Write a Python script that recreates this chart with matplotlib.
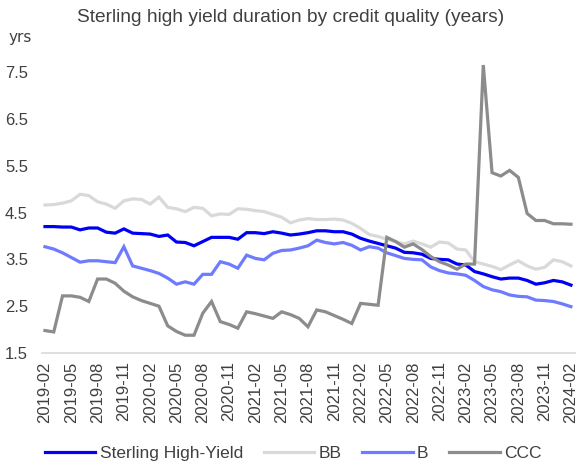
import numpy as np
import pandas as pd
import matplotlib
matplotlib.use("Agg")
import matplotlib.pyplot as plt

plt.rcParams['font.family'] = ['Liberation Sans', 'DejaVu Sans']

# Monthly observations, Feb 2019 .. Feb 2024
months = pd.date_range("2019-02-01", "2024-02-01", freq="MS").strftime("%Y-%m").tolist()

sterling_hy = [4.20, 4.20, 4.19, 4.19, 4.13, 4.17, 4.17, 4.08, 4.06, 4.15,
               4.06, 4.05, 4.04, 3.99, 4.02, 3.87, 3.86, 3.79, 3.88, 3.97,
               3.97, 3.97, 3.93, 4.07, 4.07, 4.05, 4.09, 4.06, 4.02, 4.04,
               4.07, 4.11, 4.11, 4.09, 4.09, 4.04, 3.95, 3.89, 3.84, 3.79,
               3.74, 3.65, 3.64, 3.61, 3.52, 3.50, 3.49, 3.40, 3.38, 3.24,
               3.19, 3.13, 3.08, 3.10, 3.10, 3.05, 2.97, 3.00, 3.05, 3.02,
               2.95]

bb = [4.66, 4.67, 4.70, 4.75, 4.89, 4.86, 4.73, 4.68, 4.59, 4.75,
      4.79, 4.78, 4.68, 4.83, 4.61, 4.58, 4.52, 4.61, 4.59, 4.43,
      4.47, 4.46, 4.58, 4.57, 4.54, 4.52, 4.46, 4.40, 4.28, 4.34,
      4.37, 4.35, 4.35, 4.36, 4.34, 4.27, 4.16, 4.03, 3.99, 3.93,
      3.88, 3.83, 3.89, 3.83, 3.76, 3.87, 3.85, 3.72, 3.70, 3.45,
      3.40, 3.35, 3.28, 3.38, 3.47, 3.36, 3.29, 3.33, 3.49, 3.45,
      3.36]

b = [3.77, 3.72, 3.64, 3.54, 3.44, 3.47, 3.47, 3.45, 3.43, 3.77,
     3.36, 3.31, 3.26, 3.20, 3.10, 2.97, 3.02, 2.97, 3.18, 3.18,
     3.45, 3.40, 3.31, 3.59, 3.52, 3.49, 3.63, 3.69, 3.70, 3.74,
     3.79, 3.91, 3.86, 3.83, 3.86, 3.80, 3.70, 3.77, 3.74, 3.64,
     3.58, 3.52, 3.50, 3.49, 3.34, 3.26, 3.21, 3.19, 3.16, 3.05,
     2.92, 2.85, 2.81, 2.74, 2.71, 2.70, 2.63, 2.62, 2.60, 2.55,
     2.49]

ccc = [1.98, 1.95, 2.72, 2.72, 2.69, 2.60, 3.08, 3.08, 2.99, 2.82,
       2.70, 2.62, 2.56, 2.50, 2.08, 1.96, 1.88, 1.88, 2.35, 2.60,
       2.17, 2.11, 2.03, 2.38, 2.34, 2.29, 2.24, 2.38, 2.32, 2.24,
       2.06, 2.42, 2.38, 2.30, 2.22, 2.13, 2.56, 2.54, 2.52, 3.97,
       3.88, 3.76, 3.83, 3.71, 3.56, 3.45, 3.38, 3.29, 3.40, 3.40,
       7.65, 5.35, 5.28, 5.40, 5.25, 4.48, 4.33, 4.33, 4.26, 4.26,
       4.25]

series = [
    ("Sterling High-Yield", sterling_hy, "#0000F5"),
    ("BB", bb, "#D9D9D9"),
    ("B", b, "#6E7BFF"),
    ("CCC", ccc, "#8C8C8C"),
]

txt = "#404040"

fig = plt.figure(figsize=(5.77, 4.69), dpi=100)
ax = fig.add_axes([0.0728, 0.2473, 0.9237, 0.649])

x = np.arange(len(months))
for name, vals, col in series:
    ax.plot(x, vals, color=col, lw=2.3, label=name, solid_joinstyle="miter")

ax.set_xlim(-0.34, 60.46)
ax.set_ylim(1.5, 8.0)
ax.set_yticks([1.5, 2.5, 3.5, 4.5, 5.5, 6.5, 7.5])
ax.set_yticklabels(["1.5", "2.5", "3.5", "4.5", "5.5", "6.5", "7.5"])
ax.set_xticks(x[::3])
ax.set_xticklabels(months[::3], rotation=90)
ax.tick_params(length=0, labelsize=12, colors=txt)
ax.tick_params(axis="y", pad=10)
ax.tick_params(axis="x", pad=6)

for s in ["top", "right", "left"]:
    ax.spines[s].set_visible(False)
ax.spines["bottom"].set_color("#D9D9D9")
ax.spines["bottom"].set_linewidth(1.2)

fig.text(0.503, 0.962, "Sterling high yield duration by credit quality (years)",
         ha="center", va="center", fontsize=13.8, color=txt)
fig.text(0.014, 0.919, "yrs", ha="left", va="center", fontsize=11, color=txt,
         family=["Liberation Sans Narrow", "DejaVu Sans"])

leg = fig.legend(loc="center", bbox_to_anchor=(0.508, 0.034), ncol=4, frameon=False,
                 fontsize=12.5, handlelength=2.9, handletextpad=0.25, columnspacing=1.2)
for t in leg.get_texts():
    t.set_color(txt)

fig.savefig("out.png", dpi=100)
